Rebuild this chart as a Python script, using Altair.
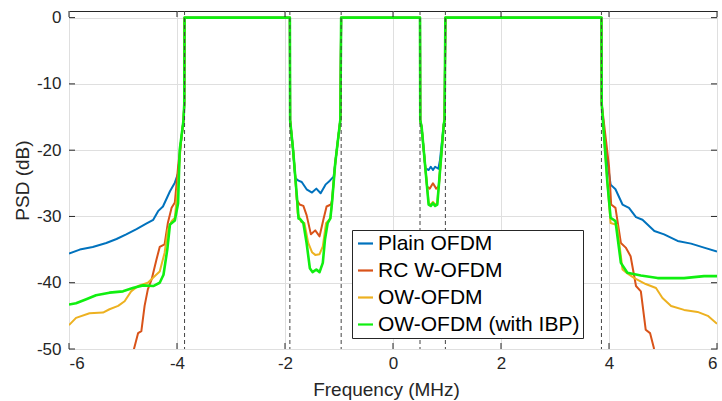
import altair as alt
import pandas as pd

SERIES = ["Plain OFDM", "RC W-OFDM", "OW-OFDM", "OW-OFDM (with IBP)"]
COLORS = ["#0072BD", "#D95319", "#EDB120", "#10ef10"]
EDGES = [-3.86, -1.91, -0.96, 0.50, 0.97, 3.86]
X_TICKS = [-6, -4, -2, 0, 2, 4, 6]
Y_TICKS = [-50, -40, -30, -20, -10, 0]

# ---- Plain OFDM ----
plain_x = [-6.0, -5.80, -5.56, -5.31, -5.12, -4.94, -4.75, -4.57, -4.44, -4.35, -4.26, -4.13, -4.04, -3.98, -3.93, -3.88, -3.865, -3.86,
           -1.91, -1.905, -1.85, -1.81, -1.75, -1.69, -1.60, -1.50, -1.42, -1.34, -1.25, -1.17, -1.10, -1.07, -0.975, -0.96,
           0.50, 0.505, 0.53, 0.60, 0.66, 0.70, 0.74, 0.78, 0.84, 0.87, 0.94, 0.955, 0.97,
           3.86, 3.865, 3.94, 4.03, 4.12, 4.25, 4.37, 4.50, 4.62, 4.84, 5.02, 5.27, 5.52, 5.76, 6.0]
plain_y = [-35.6, -35.0, -34.6, -34.0, -33.4, -32.7, -31.9, -31.1, -30.5, -29.2, -28.5, -26.2, -24.9, -23.5, -19.0, -15.5, -13.0, 0,
           0, -15.5, -20.0, -24.2, -24.6, -24.8, -25.9, -26.4, -25.8, -26.5, -25.2, -24.6, -24.0, -22.0, -15.4, 0,
           0, -15.5, -16.5, -22.7, -23.0, -22.5, -23.0, -22.5, -22.8, -21.5, -16.1, -15.5, 0,
           0, -13.0, -19.9, -25.2, -25.9, -28.2, -28.7, -30.1, -30.5, -32.2, -32.7, -33.7, -34.1, -34.7, -35.3]

# ---- RC W-OFDM ----
rc_x = [-4.84, -4.80, -4.72, -4.66, -4.60, -4.54, -4.47, -4.38, -4.32, -4.23, -4.17, -4.10, -4.04, -3.98, -3.93, -3.88, -3.865, -3.86,
        -1.91, -1.905, -1.85, -1.81, -1.78, -1.73, -1.66, -1.60, -1.52, -1.44, -1.36, -1.29, -1.23, -1.15, -1.13, -1.07, -0.975, -0.96,
        0.50, 0.505, 0.53, 0.63, 0.68, 0.74, 0.80, 0.84, 0.85, 0.94, 0.955, 0.97,
        3.86, 3.865, 4.00, 4.04, 4.12, 4.22, 4.31, 4.40, 4.50, 4.59, 4.68, 4.76, 4.83, 4.86]
rc_y = [-52.0, -50.1, -47.6, -47.3, -43.5, -41.0, -39.5, -36.5, -34.6, -34.2, -31.0, -28.7, -27.9, -22.5, -19.0, -15.5, -13.0, 0,
        0, -15.5, -20.0, -24.0, -27.5, -28.2, -28.4, -29.8, -32.7, -32.1, -33.0, -30.5, -28.5, -28.2, -27.6, -22.0, -15.4, 0,
        0, -15.5, -16.5, -25.5, -25.8, -25.0, -25.8, -25.5, -25.3, -16.1, -15.5, 0,
        0, -13.0, -22.4, -28.2, -28.7, -34.0, -34.7, -36.0, -40.5, -41.3, -47.1, -47.6, -49.8, -52.0]

# ---- OW-OFDM ----
ow_x = [-6.0, -5.87, -5.62, -5.37, -5.25, -5.09, -4.97, -4.85, -4.72, -4.54, -4.41, -4.32, -4.23, -4.17, -4.10, -4.04, -3.99, -3.93, -3.88, -3.865, -3.86,
        -1.91, -1.905, -1.85, -1.81, -1.765, -1.70, -1.64, -1.57, -1.50, -1.44, -1.36, -1.30, -1.24, -1.16, -1.13, -1.07, -0.975, -0.96,
        0.50, 0.505, 0.53, 0.66, 0.70, 0.74, 0.78, 0.82, 0.94, 0.955, 0.97,
        3.86, 3.865, 3.97, 4.03, 4.15, 4.25, 4.34, 4.47, 4.68, 4.87, 4.99, 5.15, 5.39, 5.64, 5.83, 6.0]
ow_y = [-46.4, -45.3, -44.6, -44.5, -44.0, -43.5, -42.8, -41.3, -40.5, -40.0, -39.0, -38.3, -35.5, -32.0, -30.7, -30.2, -26.0, -19.0, -15.5, -13.0, 0,
        0, -15.5, -20.0, -24.0, -29.5, -30.8, -31.0, -34.0, -35.4, -35.8, -35.7, -34.5, -31.0, -30.3, -28.0, -22.0, -15.4, 0,
        0, -15.5, -16.5, -28.0, -28.2, -27.8, -28.2, -28.0, -16.1, -15.5, 0,
        0, -13.0, -24.9, -31.0, -31.3, -38.0, -38.6, -39.3, -40.2, -40.8, -42.3, -43.5, -44.1, -44.4, -45.0, -46.2]

# ---- OW-OFDM (with IBP) ----
ibp_x = [-6.0, -5.87, -5.68, -5.50, -5.25, -5.00, -4.82, -4.63, -4.44, -4.32, -4.25, -4.18, -4.13, -4.04, -3.98, -3.95, -3.88, -3.865, -3.86,
         -1.91, -1.905, -1.85, -1.81, -1.77, -1.75, -1.72, -1.66, -1.60, -1.54, -1.49, -1.42, -1.36, -1.30, -1.26, -1.21, -1.16, -1.13, -1.07, -0.975, -0.96,
         0.50, 0.505, 0.53, 0.66, 0.70, 0.74, 0.78, 0.82, 0.94, 0.955, 0.97,
         3.86, 3.865, 3.97, 4.03, 4.12, 4.22, 4.34, 4.59, 4.90, 5.39, 5.76, 6.0]
ibp_y = [-43.3, -43.1, -42.5, -41.9, -41.5, -41.3, -40.8, -40.4, -40.5, -40.0, -38.8, -35.0, -31.2, -30.6, -28.0, -20.0, -15.5, -13.0, 0,
         0, -15.5, -20.0, -24.0, -28.0, -30.3, -30.4, -31.0, -34.0, -37.8, -38.4, -38.0, -38.4, -37.0, -33.5, -31.0, -30.3, -28.0, -22.0, -15.4, 0,
         0, -15.5, -16.5, -28.2, -28.4, -28.0, -28.4, -28.2, -16.1, -15.5, 0,
         0, -13.0, -24.9, -30.2, -30.7, -37.0, -38.5, -38.9, -39.3, -39.3, -39.0, -39.0]

rows = []
for name, xs, ys in zip(SERIES, [plain_x, rc_x, ow_x, ibp_x], [plain_y, rc_y, ow_y, ibp_y]):
    for i, (xv, yv) in enumerate(zip(xs, ys)):
        rows.append({"series": name, "f": xv, "psd": yv, "idx": i})
df = pd.DataFrame(rows)

W, H = 648, 338
FONT = "Liberation Sans"
TXT = "#262626"

xscale = alt.Scale(domain=[-6, 6], nice=False, zero=False)
yscale = alt.Scale(domain=[-50, 1], nice=False, zero=False)

color = alt.Color(
    "series:N",
    scale=alt.Scale(domain=SERIES, range=COLORS),
    legend=alt.Legend(
        title=None, orient="none", legendX=283, legendY=219, direction="vertical",
        fillColor="white", strokeColor=TXT, padding=3, cornerRadius=0,
        symbolType="stroke", symbolSize=225, symbolStrokeWidth=2.2, symbolOffset=0,
        labelFontSize=21, labelFont=FONT, labelColor="black", labelOffset=2,
        rowPadding=5, labelLimit=400,
    ),
)

base = alt.Chart(df).encode(
    x=alt.X("f:Q", scale=xscale,
            axis=alt.Axis(values=X_TICKS, title="Frequency (MHz)", grid=True, ticks=False, domain=False,
                          labelExpr="'' + datum.value", labelPadding=6, titlePadding=9, titleX=317)),
    y=alt.Y("psd:Q", scale=yscale,
            axis=alt.Axis(values=Y_TICKS, title="PSD (dB)", grid=True, ticks=False, domain=False,
                          labelExpr="'' + datum.value", labelPadding=8, titlePadding=4)),
    color=color,
    order=alt.Order("idx:Q"),
)

layers = []
for name, sw in zip(SERIES, [2.0, 2.0, 2.0, 2.6]):
    layers.append(
        base.transform_filter(alt.datum.series == name).mark_line(clip=True, strokeWidth=sw, strokeJoin="round")
    )

edges_df = pd.DataFrame({"e": EDGES})
edges = alt.Chart(edges_df).mark_rule(color="#444444", strokeDash=[4, 3], strokeWidth=1.0).encode(
    x=alt.X("e:Q", scale=xscale)
)

xt_df = pd.DataFrame({"t": X_TICKS})
yt_df = pd.DataFrame({"t": Y_TICKS})
xt_bottom = alt.Chart(xt_df).mark_rule(color=TXT, strokeWidth=1).encode(
    x=alt.X("t:Q", scale=xscale), y=alt.value(H), y2=alt.value(H - 6))
xt_top = alt.Chart(xt_df).mark_rule(color=TXT, strokeWidth=1).encode(
    x=alt.X("t:Q", scale=xscale), y=alt.value(0), y2=alt.value(6))
yt_left = alt.Chart(yt_df).mark_rule(color=TXT, strokeWidth=1).encode(
    y=alt.Y("t:Q", scale=yscale), x=alt.value(0), x2=alt.value(6))
yt_right = alt.Chart(yt_df).mark_rule(color=TXT, strokeWidth=1).encode(
    y=alt.Y("t:Q", scale=yscale), x=alt.value(W), x2=alt.value(W - 6))

chart = alt.layer(*layers, edges, xt_bottom, xt_top, yt_left, yt_right).properties(
    width=W, height=H,
    autosize=alt.AutoSizeParams(type="none"),
    padding={"left": 69, "top": 11, "right": 5, "bottom": 52},
).configure_view(stroke=TXT, strokeWidth=1).configure_axis(
    labelFont=FONT, labelFontSize=17, labelColor=TXT,
    titleFont=FONT, titleFontSize=19, titleColor=TXT, titleFontWeight="normal",
    gridColor="#dfdfdf", gridWidth=1,
)

chart.save("out.html", embed_options={"renderer": "svg", "actions": False})
